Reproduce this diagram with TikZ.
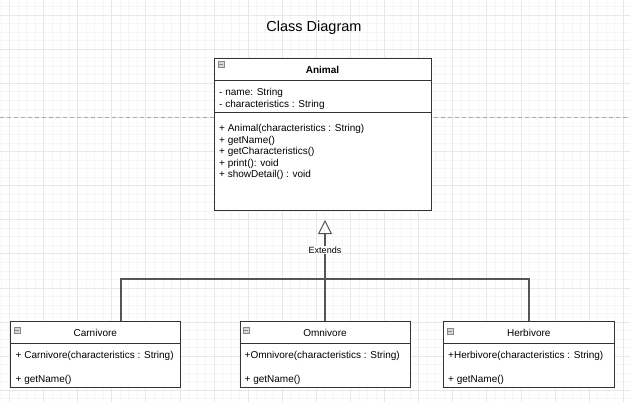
\documentclass[tikz,border=0pt]{standalone}
\usepackage{fontspec}
\setmainfont{Liberation Sans}
\usetikzlibrary{arrows.meta}
\definecolor{minorc}{HTML}{F5F5F5}
\definecolor{majorc}{HTML}{E8E8E8}
\definecolor{boxc}{HTML}{333333}
\definecolor{connc}{HTML}{555555}
\definecolor{dashc}{HTML}{AAAAAA}
\definecolor{iconfill}{HTML}{D8D8D8}
\definecolor{icondraw}{HTML}{888888}
\begin{document}
\begin{tikzpicture}[x=1pt,y=-1pt,
  cls/.style={draw=boxc, fill=white, line width=1pt, anchor=north west, inner sep=0pt, outer sep=0pt},
  sepline/.style={draw=boxc, line width=1pt},
  txt/.style={anchor=base west, inner sep=0pt, font=\fontsize{10}{12}\selectfont, text=black},
  hdr/.style={anchor=base, inner sep=0pt, font=\fontsize{10}{12}\selectfont, text=black},
  conn/.style={draw=connc, line width=1.2pt},
  lbl/.style={fill=white, inner sep=1pt, font=\fontsize{9}{11}\selectfont, text=black},
  iconbox/.style={fill=iconfill, draw=icondraw, line width=0.6pt}]
\useasboundingbox (0,0) rectangle (630,402);
\fill[white] (0,0) rectangle (630,402);
% grid
\foreach \i in {0,...,74} {
  \draw[minorc, line width=0.5pt] ({0.775+8.525*\i},0) -- ({0.775+8.525*\i},402);
}
\foreach \i in {0,...,48} {
  \draw[minorc, line width=0.5pt] (0,{-2.05+8.525*\i}) -- (630,{-2.05+8.525*\i});
}
\foreach \i in {0,...,18} {
  \draw[majorc, line width=0.6pt] ({9.3+34.1*\i},0) -- ({9.3+34.1*\i},402);
}
\foreach \i in {0,...,11} {
  \draw[majorc, line width=0.6pt] (0,{15+34.1*\i}) -- (630,{15+34.1*\i});
}
% dashed page break line
\draw[dashc, line width=0.8pt, dash pattern=on 4pt off 3pt] (0,117.5) -- (630,117.5);

% title
\node[inner sep=0pt, anchor=base, font=\fontsize{14.5}{17}\selectfont] (title) at (314,31.5) {Class Diagram};

% Animal
\node[cls, minimum width=217pt, minimum height=152.5pt] (animal) at (214,58) {};
\draw[sepline] ([yshift=-22pt]animal.north west) -- ([yshift=-22pt]animal.north east);
\draw[sepline] ([yshift=-54pt]animal.north west) -- ([yshift=-54pt]animal.north east);
\filldraw[iconbox] (218,61.5) rectangle ++(6,6);
\draw[icondraw, line width=0.6pt] (219.2,64.5) -- (222.8,64.5);
\node[hdr, font=\fontsize{10}{12}\selectfont\bfseries] (animalname) at (322.5,73) {Animal};
\node[txt] (a1) at (219,95.5) {- name: String};
\node[txt] (a2) at (219,107) {- characteristics : String};
\node[txt] (m1) at (219,131.5) {+ Animal(characteristics : String)};
\node[txt] (m2) at (219,143) {+ getName()};
\node[txt] (m3) at (219,154.5) {+ getCharacteristics()};
\node[txt] (m4) at (219,166) {+ print(): void};
\node[txt] (m5) at (219,177.5) {+ showDetail() : void};

% Carnivore
\node[cls, minimum width=170pt, minimum height=66.4pt] (carn) at (10.3,321.3) {};
\draw[sepline] ([yshift=-22pt]carn.north west) -- ([yshift=-22pt]carn.north east);
\filldraw[iconbox] (14,327.5) rectangle ++(6,6);
\draw[icondraw, line width=0.6pt] (15.2,330.5) -- (18.8,330.5);
\node[hdr] (carnname) at (95.3,336) {Carnivore};
\node[txt] (c1) at (15.5,358) {+ Carnivore(characteristics : String)};
\node[txt] (c2) at (15.5,382) {+ getName()};

% Omnivore
\node[cls, minimum width=170pt, minimum height=66.4pt] (omn) at (240,321.3) {};
\draw[sepline] ([yshift=-22pt]omn.north west) -- ([yshift=-22pt]omn.north east);
\filldraw[iconbox] (243,327.5) rectangle ++(6,6);
\draw[icondraw, line width=0.6pt] (244.2,330.5) -- (247.8,330.5);
\node[hdr] (omnname) at (325,336) {Omnivore};
\node[txt] (o1) at (244.5,358) {+Omnivore(characteristics : String)};
\node[txt] (o2) at (244.5,382) {+ getName()};

% Herbivore
\node[cls, minimum width=171pt, minimum height=66.4pt] (herb) at (443.3,321.3) {};
\draw[sepline] ([yshift=-22pt]herb.north west) -- ([yshift=-22pt]herb.north east);
\filldraw[iconbox] (447,328) rectangle ++(6,6);
\draw[icondraw, line width=0.6pt] (448.2,331) -- (451.8,331);
\node[hdr] (herbname) at (528.8,336) {Herbivore};
\node[txt] (h1) at (448,358) {+Herbivore(characteristics : String)};
\node[txt] (h2) at (448,382) {+ getName()};

% connectors
\coordinate (tipc) at (325,220);
\coordinate (jl) at (121,279);
\coordinate (jr) at (529,279);
\draw[conn] (jl |- carn.north) -- (jl) -- (jr) -- (jr |- herb.north);
\draw[conn, -{Triangle[open, length=14pt, width=14pt, line width=1pt]}] (omn.north) -- (tipc);
\node[lbl] (ext) at (325,250) {Extends};
\end{tikzpicture}
\end{document}
